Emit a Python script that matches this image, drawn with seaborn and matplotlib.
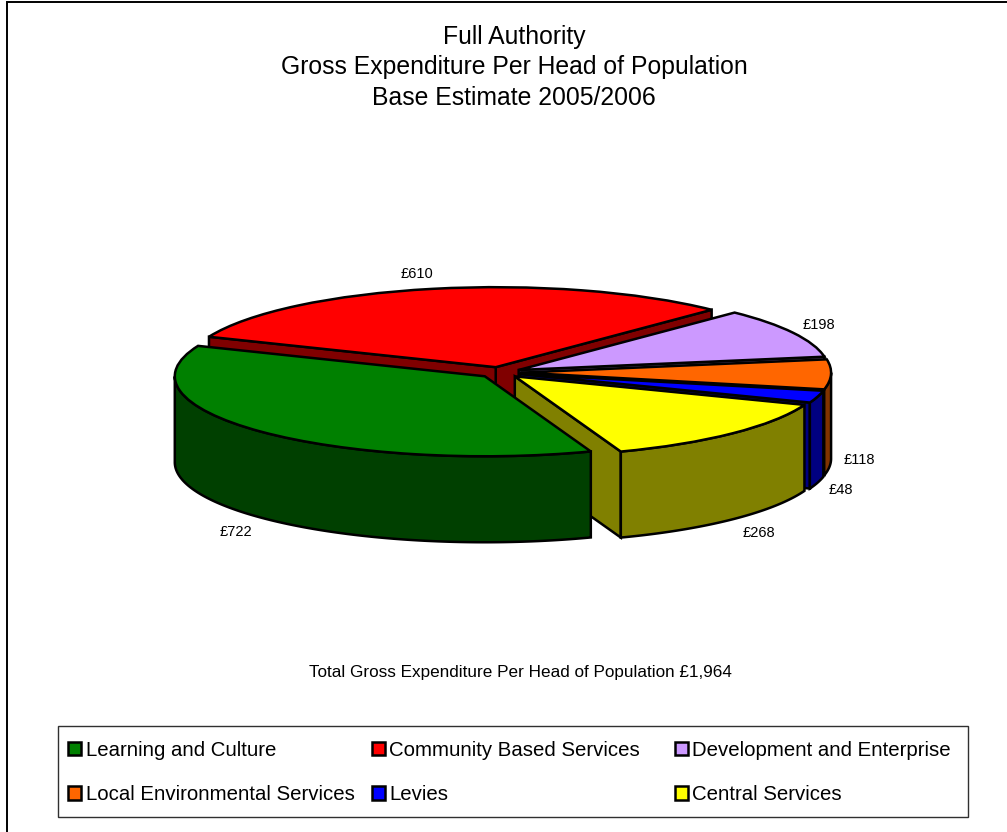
import numpy as np
import matplotlib
matplotlib.use("Agg")
import matplotlib.pyplot as plt
from matplotlib.patches import Patch, Polygon, Rectangle
import seaborn as sns

# dane
categories = ["Learning and Culture", "Community Based Services", "Development and Enterprise",
              "Local Environmental Services", "Levies", "Central Services"]
values = [722, 610, 198, 118, 48, 268]
slice_colors = ["#008000", "#FF0000", "#CC99FF", "#FF6600", "#0000FF", "#FFFF00"]
title_lines = ["Full Authority", "Gross Expenditure Per Head of Population", "Base Estimate 2005/2006"]
total_text = "Total Gross Expenditure Per Head of Population £1,964"

# geometry of the tilted pie, in pixels
W, H = 1007, 832
CX, CY = 500, 372.5
RX, RY = 310, 80
DEPTH = 86
EXPLODE = 0.068
START = -70
LW = 1.8

# where the value labels sit (pixel centres), same order as values
label_pos = [(236, 532), (417, 274), (819, 325), (859, 460), (841, 490), (759, 533)]
# slices are painted back to front
draw_order = [1, 2, 3, 4, 5, 0]

sns.set_theme(style="white")
plt.rcParams["font.family"] = ["Liberation Sans", "DejaVu Sans"]
palette = sns.color_palette(slice_colors)
dark = [tuple(np.array(c) / 2) for c in palette]


def px(x, y):
    return x / W, 1 - y / H


fig = plt.figure(figsize=(W / 100, H / 100), dpi=100)
ax = fig.add_axes([0, 0, 1, 1])
wedges, _ = ax.pie(values, colors=palette, explode=[EXPLODE] * len(values), startangle=START,
                   counterclock=False, radius=1,
                   wedgeprops=dict(edgecolor="black", linewidth=LW))
ax.set_aspect("auto")
ax.set_xlim(-CX / RX, (W - CX) / RX)
ax.set_ylim(-(H - CY) / RY, CY / RY)
drop = DEPTH / RY

for rank, i in enumerate(draw_order):
    w = wedges[i]
    x0, y0 = w.center
    z = 2 + rank * 2
    w.set_zorder(z + 1)
    # cut faces, only the ones turned towards the viewer
    for ang, sign in ((w.theta1, 1), (w.theta2, -1)):
        if sign * np.cos(np.radians(ang)) <= 0:
            continue
        ex = x0 + np.cos(np.radians(ang))
        ey = y0 + np.sin(np.radians(ang))
        ax.add_patch(Polygon([(x0, y0), (ex, ey), (ex, ey - drop), (x0, y0 - drop)], closed=True,
                             facecolor=dark[i], edgecolor="black", linewidth=LW, zorder=z))
    # outer rim, only the part facing the viewer
    t = np.radians(np.linspace(w.theta1, w.theta2, 720))
    t = t[np.sin(t) <= 0]
    if len(t):
        xs = x0 + np.cos(t)
        ys = y0 + np.sin(t)
        pts = np.r_[np.c_[xs, ys], np.c_[xs, ys - drop][::-1]]
        ax.add_patch(Polygon(pts, closed=True, facecolor=dark[i], edgecolor="black",
                             linewidth=LW, zorder=z))

# value labels
for v, (lx, ly) in zip(values, label_pos):
    fx, fy = px(lx, ly)
    fig.text(fx, fy, f"£{v}", ha="center", va="center", fontsize=10.5, color="black")

# title and total
for line, ty in zip(title_lines, [37, 67, 98]):
    fx, fy = px(514, ty)
    fig.text(fx, fy, line, ha="center", va="center", fontsize=17.8, color="black")
fx, fy = px(520, 672)
fig.text(fx, fy, total_text, ha="center", va="center", fontsize=12.3, color="black")

# chart border (runs off the right and bottom of the image)
fig.add_artist(Rectangle(px(7, H + 20), (W + 20) / W, (H + 18) / H, transform=fig.transFigure,
                         facecolor="none", edgecolor="black", linewidth=1.4))

# legend box with three columns
fig.add_artist(Rectangle(px(57.5, 817), 910 / W, 91 / H, transform=fig.transFigure,
                         facecolor="none", edgecolor="#303030", linewidth=1.0, zorder=5))
for c, col_x in enumerate([61, 364.5, 667.5]):
    idx = [c, c + 3]
    handles = [Patch(facecolor=palette[i], edgecolor="black", linewidth=LW) for i in idx]
    leg = fig.legend(handles, [categories[i] for i in idx], loc="upper left",
                     bbox_to_anchor=px(col_x, 733.5), bbox_transform=fig.transFigure,
                     frameon=False, fontsize=14.7, handlelength=0.65, handleheight=0.65,
                     handletextpad=0.2, labelspacing=1.26, borderpad=0.35, borderaxespad=0)
    for txt in leg.get_texts():
        txt.set_color("black")

fig.savefig("out.png", dpi=100, facecolor="white")
plt.close(fig)
